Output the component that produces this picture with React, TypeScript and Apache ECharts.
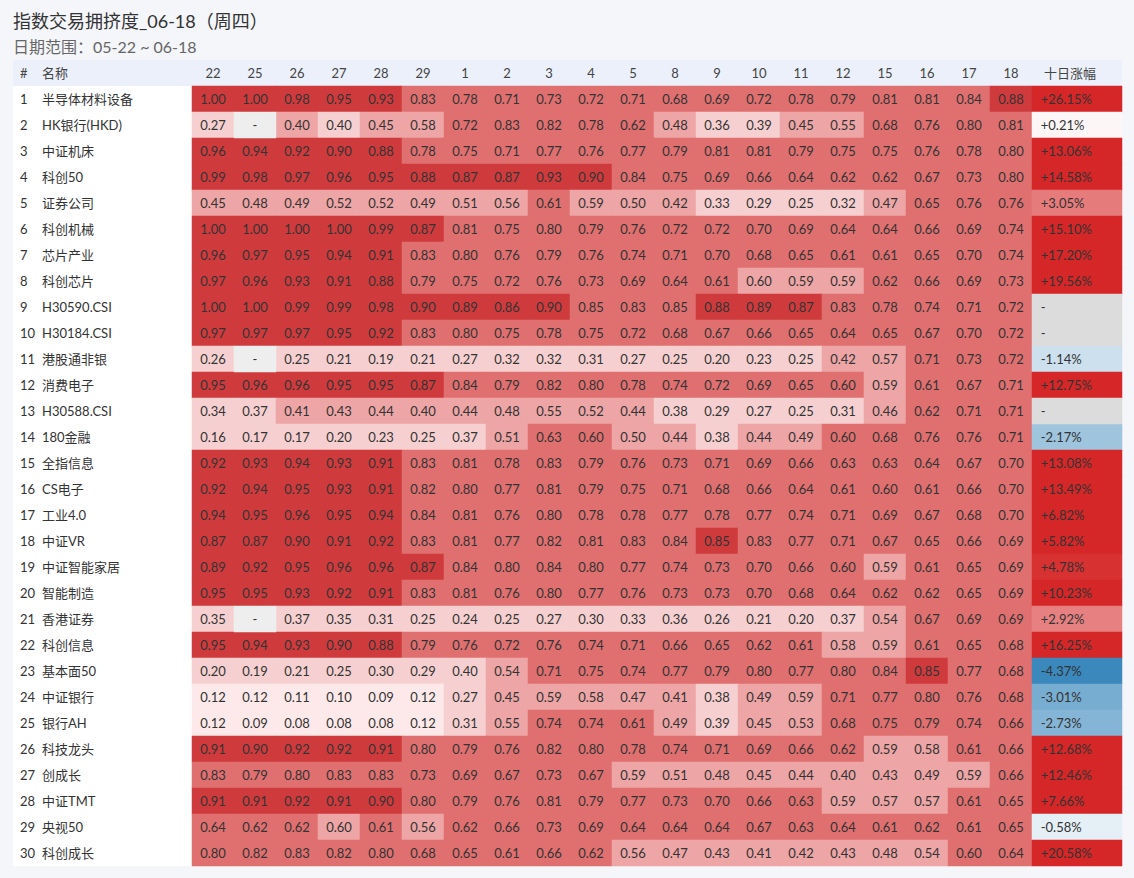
import React, { useEffect, useRef } from "react";
import * as echarts from "echarts";

const titleText = "指数交易拥挤度_06-18（周四）";
const subtitleText = "日期范围：05-22 ~ 06-18";

const dates = ["22", "25", "26", "27", "28", "29", "1", "2", "3", "4", "5", "8", "9", "10", "11", "12", "15", "16", "17", "18"];

const names = [
  "半导体材料设备", "HK银行(HKD)", "中证机床", "科创50", "证券公司", "科创机械", "芯片产业", "科创芯片",
  "H30590.CSI", "H30184.CSI", "港股通非银", "消费电子", "H30588.CSI", "180金融", "全指信息", "CS电子",
  "工业4.0", "中证VR", "中证智能家居", "智能制造", "香港证券", "科创信息", "基本面50", "中证银行",
  "银行AH", "科技龙头", "创成长", "中证TMT", "央视50", "科创成长",
];

const crowding: (number | null)[][] = [
  [1.00, 1.00, 0.98, 0.95, 0.93, 0.83, 0.78, 0.71, 0.73, 0.72, 0.71, 0.68, 0.69, 0.72, 0.78, 0.79, 0.81, 0.81, 0.84, 0.88],
  [0.27, null, 0.40, 0.398, 0.45, 0.58, 0.72, 0.83, 0.82, 0.78, 0.62, 0.48, 0.36, 0.39, 0.45, 0.55, 0.68, 0.76, 0.80, 0.81],
  [0.96, 0.94, 0.92, 0.90, 0.88, 0.78, 0.75, 0.71, 0.77, 0.76, 0.77, 0.79, 0.81, 0.81, 0.79, 0.75, 0.75, 0.76, 0.78, 0.80],
  [0.99, 0.98, 0.97, 0.96, 0.95, 0.88, 0.87, 0.87, 0.93, 0.90, 0.84, 0.75, 0.69, 0.66, 0.64, 0.62, 0.62, 0.67, 0.73, 0.80],
  [0.45, 0.48, 0.49, 0.52, 0.52, 0.49, 0.51, 0.56, 0.61, 0.59, 0.50, 0.42, 0.33, 0.29, 0.25, 0.32, 0.47, 0.65, 0.76, 0.76],
  [1.00, 1.00, 1.00, 1.00, 0.99, 0.87, 0.81, 0.75, 0.80, 0.79, 0.76, 0.72, 0.72, 0.70, 0.69, 0.64, 0.64, 0.66, 0.69, 0.74],
  [0.96, 0.97, 0.95, 0.94, 0.91, 0.83, 0.80, 0.76, 0.79, 0.76, 0.74, 0.71, 0.70, 0.68, 0.65, 0.61, 0.61, 0.65, 0.70, 0.74],
  [0.97, 0.96, 0.93, 0.91, 0.88, 0.79, 0.75, 0.72, 0.76, 0.73, 0.69, 0.64, 0.61, 0.598, 0.59, 0.59, 0.62, 0.66, 0.69, 0.73],
  [1.00, 1.00, 0.99, 0.99, 0.98, 0.90, 0.89, 0.86, 0.90, 0.848, 0.83, 0.848, 0.88, 0.89, 0.87, 0.83, 0.78, 0.74, 0.71, 0.72],
  [0.97, 0.97, 0.97, 0.95, 0.92, 0.83, 0.80, 0.75, 0.78, 0.75, 0.72, 0.68, 0.67, 0.66, 0.65, 0.64, 0.65, 0.67, 0.70, 0.72],
  [0.26, null, 0.25, 0.21, 0.19, 0.21, 0.27, 0.32, 0.32, 0.31, 0.27, 0.25, 0.20, 0.23, 0.25, 0.42, 0.57, 0.71, 0.73, 0.72],
  [0.95, 0.96, 0.96, 0.95, 0.95, 0.87, 0.84, 0.79, 0.82, 0.80, 0.78, 0.74, 0.72, 0.69, 0.65, 0.60, 0.59, 0.61, 0.67, 0.71],
  [0.34, 0.37, 0.41, 0.43, 0.44, 0.40, 0.44, 0.48, 0.55, 0.52, 0.44, 0.38, 0.29, 0.27, 0.25, 0.31, 0.46, 0.62, 0.71, 0.71],
  [0.16, 0.17, 0.17, 0.20, 0.23, 0.25, 0.37, 0.51, 0.63, 0.60, 0.50, 0.44, 0.38, 0.44, 0.49, 0.60, 0.68, 0.76, 0.76, 0.71],
  [0.92, 0.93, 0.94, 0.93, 0.91, 0.83, 0.81, 0.78, 0.83, 0.79, 0.76, 0.73, 0.71, 0.69, 0.66, 0.63, 0.63, 0.64, 0.67, 0.70],
  [0.92, 0.94, 0.95, 0.93, 0.91, 0.82, 0.80, 0.77, 0.81, 0.79, 0.75, 0.71, 0.68, 0.66, 0.64, 0.61, 0.60, 0.61, 0.66, 0.70],
  [0.94, 0.95, 0.96, 0.95, 0.94, 0.84, 0.81, 0.76, 0.80, 0.78, 0.78, 0.77, 0.78, 0.77, 0.74, 0.71, 0.69, 0.67, 0.68, 0.70],
  [0.87, 0.87, 0.90, 0.91, 0.92, 0.83, 0.81, 0.77, 0.82, 0.81, 0.83, 0.84, 0.85, 0.83, 0.77, 0.71, 0.67, 0.65, 0.66, 0.69],
  [0.89, 0.92, 0.95, 0.96, 0.96, 0.87, 0.84, 0.80, 0.84, 0.80, 0.77, 0.74, 0.73, 0.70, 0.66, 0.60, 0.59, 0.61, 0.65, 0.69],
  [0.95, 0.95, 0.93, 0.92, 0.91, 0.83, 0.81, 0.76, 0.80, 0.77, 0.76, 0.73, 0.73, 0.70, 0.68, 0.64, 0.62, 0.62, 0.65, 0.69],
  [0.35, null, 0.37, 0.35, 0.31, 0.25, 0.24, 0.25, 0.27, 0.30, 0.33, 0.36, 0.26, 0.21, 0.20, 0.37, 0.54, 0.67, 0.69, 0.69],
  [0.95, 0.94, 0.93, 0.90, 0.88, 0.79, 0.76, 0.72, 0.76, 0.74, 0.71, 0.66, 0.65, 0.62, 0.61, 0.58, 0.59, 0.61, 0.65, 0.68],
  [0.20, 0.19, 0.21, 0.25, 0.30, 0.29, 0.398, 0.54, 0.71, 0.75, 0.74, 0.77, 0.79, 0.80, 0.77, 0.80, 0.84, 0.85, 0.77, 0.68],
  [0.12, 0.12, 0.11, 0.10, 0.09, 0.12, 0.27, 0.45, 0.59, 0.58, 0.47, 0.41, 0.38, 0.49, 0.59, 0.71, 0.77, 0.80, 0.76, 0.68],
  [0.12, 0.09, 0.08, 0.08, 0.08, 0.12, 0.31, 0.55, 0.74, 0.74, 0.61, 0.49, 0.39, 0.45, 0.53, 0.68, 0.75, 0.79, 0.74, 0.66],
  [0.91, 0.90, 0.92, 0.92, 0.91, 0.80, 0.79, 0.76, 0.82, 0.80, 0.78, 0.74, 0.71, 0.69, 0.66, 0.62, 0.59, 0.58, 0.61, 0.66],
  [0.83, 0.79, 0.80, 0.83, 0.83, 0.73, 0.69, 0.67, 0.73, 0.67, 0.59, 0.51, 0.48, 0.45, 0.44, 0.40, 0.43, 0.49, 0.59, 0.66],
  [0.91, 0.91, 0.92, 0.91, 0.90, 0.80, 0.79, 0.76, 0.81, 0.79, 0.77, 0.73, 0.70, 0.66, 0.63, 0.59, 0.57, 0.57, 0.61, 0.65],
  [0.64, 0.62, 0.62, 0.598, 0.61, 0.56, 0.62, 0.66, 0.73, 0.69, 0.64, 0.64, 0.64, 0.67, 0.63, 0.64, 0.61, 0.62, 0.61, 0.65],
  [0.80, 0.82, 0.83, 0.82, 0.80, 0.68, 0.65, 0.61, 0.66, 0.62, 0.56, 0.47, 0.43, 0.41, 0.42, 0.43, 0.48, 0.54, 0.60, 0.64],
];

const tenDayChange: (number | null)[] = [
  26.15, 0.21, 13.06, 14.58, 3.05, 15.10, 17.20, 19.56, null, null,
  -1.14, 12.75, null, -2.17, 13.08, 13.49, 6.82, 5.82, 4.78, 10.23,
  2.92, 16.25, -4.37, -3.01, -2.73, 12.68, 12.46, 7.66, -0.58, 20.58,
];

const changeHeader = "十日涨幅";

const FONT = "Lato, 'Noto Sans CJK SC', sans-serif";

export default function App() {
  const ref = useRef<HTMLDivElement>(null);

  useEffect(() => {
    document.body.style.margin = "0";
    const chart = echarts.init(ref.current!, undefined, { renderer: "svg" });

    const cellData: any[] = [];
    const missingData: any[] = [];
    crowding.forEach((row, r) => {
      row.forEach((v, c) => {
        if (v === null) missingData.push([c, r, 0]);
        else cellData.push([c, r, v]);
      });
    });
    const changeData: any[] = [];
    const changeMissing: any[] = [];
    tenDayChange.forEach((v, r) => {
      if (v === null) changeMissing.push([0, r, 0]);
      else changeData.push([0, r, v]);
    });

    const TOP = 86;
    const ROWH = 26;
    const H = ROWH * names.length;

    const option: any = {
      animation: false,
      backgroundColor: "#f4f6fa",
      textStyle: { fontFamily: FONT },
      title: {
        left: 8,
        top: 7,
        text: titleText,
        subtext: subtitleText,
        itemGap: 9,
        textStyle: { fontSize: 18, fontWeight: "normal", color: "#333", fontFamily: FONT },
        subtextStyle: { fontSize: 16, color: "#666", fontFamily: FONT },
      },
      graphic: [
        { type: "rect", z: -10, silent: true, shape: { x: 13, y: 60, width: 1109, height: 26 }, style: { fill: "#ebf0fb" } },
        { type: "rect", z: -10, silent: true, shape: { x: 13, y: TOP, width: 179, height: H }, style: { fill: "#ffffff" } },
        { type: "text", x: 20, y: 73, style: { text: "#", fill: "#444", fontSize: 13, fontFamily: FONT, verticalAlign: "middle" } },
        { type: "text", x: 42, y: 73, style: { text: "名称", fill: "#444", fontSize: 13, fontFamily: FONT, verticalAlign: "middle" } },
        { type: "text", x: 1044, y: 73, style: { text: changeHeader, fill: "#444", fontSize: 13, fontFamily: FONT, verticalAlign: "middle" } },
      ],
      grid: [
        { left: 192, top: TOP, width: 840, height: H },
        { left: 1032, top: TOP, width: 90, height: H },
      ],
      xAxis: [
        {
          type: "category", gridIndex: 0, data: dates, position: "top",
          axisLine: { show: false }, axisTick: { show: false }, splitLine: { show: false },
          axisLabel: { color: "#444", fontSize: 13, margin: 7, fontFamily: FONT },
        },
        {
          type: "category", gridIndex: 1, data: [changeHeader], position: "top",
          axisLine: { show: false }, axisTick: { show: false }, axisLabel: { show: false },
        },
      ],
      yAxis: [
        {
          type: "category", gridIndex: 0, data: names, inverse: true,
          axisLine: { show: false }, axisTick: { show: false }, splitLine: { show: false },
          axisLabel: {
            align: "left",
            margin: 172,
            formatter: (v: string, i: number) => `{n|${i + 1}}{t|${v}}`,
            rich: {
              n: { width: 22, fontSize: 13, color: "#333", fontFamily: FONT },
              t: { fontSize: 13, color: "#333", fontFamily: FONT },
            },
          },
        },
        {
          type: "category", gridIndex: 1, data: names, inverse: true,
          axisLine: { show: false }, axisTick: { show: false }, axisLabel: { show: false },
        },
      ],
      visualMap: [
        {
          type: "piecewise", show: false, seriesIndex: 0, dimension: 2,
          pieces: [
            { gte: 0.85, color: "#cf3b3d" },
            { gte: 0.6, lt: 0.85, color: "#e07070" },
            { gte: 0.4, lt: 0.6, color: "#eda5a5" },
            { gte: 0.15, lt: 0.4, color: "#f6d0d0" },
            { lt: 0.15, color: "#fde9e9" },
          ],
        },
        {
          type: "piecewise", show: false, seriesIndex: 1, dimension: 2,
          pieces: [{ gte: -1, lte: 1, color: "#eeeeee" }],
        },
        {
          type: "continuous", show: false, seriesIndex: 2, dimension: 2,
          min: -5, max: 5,
          inRange: { color: ["#1f77b4", "#ffffff", "#d62728"] },
        },
        {
          type: "piecewise", show: false, seriesIndex: 3, dimension: 2,
          pieces: [{ gte: -1, lte: 1, color: "#dcdcdc" }],
        },
      ],
      series: [
        {
          type: "heatmap", xAxisIndex: 0, yAxisIndex: 0, data: cellData,
          itemStyle: { borderWidth: 0 },
          label: {
            show: true, color: "#333", fontSize: 13, fontFamily: FONT,
            formatter: (p: any) => (p.value[2] as number).toFixed(2),
          },
          emphasis: { disabled: true },
        },
        {
          type: "heatmap", xAxisIndex: 0, yAxisIndex: 0, data: missingData,
          itemStyle: { borderWidth: 0 },
          label: { show: true, color: "#333", fontSize: 13, fontFamily: FONT, formatter: () => "-" },
          emphasis: { disabled: true },
        },
        {
          type: "heatmap", xAxisIndex: 1, yAxisIndex: 1, data: changeData,
          itemStyle: { borderWidth: 0 },
          label: {
            show: true, color: "#333", fontSize: 13, fontFamily: FONT,
            position: "insideLeft", distance: 9,
            formatter: (p: any) => {
              const v = p.value[2] as number;
              return (v > 0 ? "+" : "") + v.toFixed(2) + "%";
            },
          },
          emphasis: { disabled: true },
        },
        {
          type: "heatmap", xAxisIndex: 1, yAxisIndex: 1, data: changeMissing,
          itemStyle: { borderWidth: 0 },
          label: {
            show: true, color: "#333", fontSize: 13, fontFamily: FONT,
            position: "insideLeft", distance: 9, formatter: () => "-",
          },
          emphasis: { disabled: true },
        },
      ],
    };

    chart.setOption(option);
    return () => chart.dispose();
  }, []);

  return <div ref={ref} style={{ width: 1134, height: 878, position: "absolute", left: 0, top: 0 }} />;
}
